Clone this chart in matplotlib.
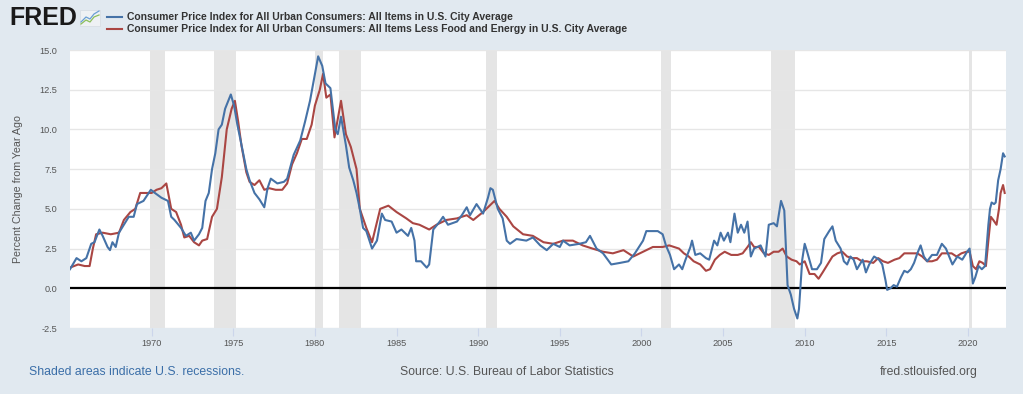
import matplotlib
matplotlib.use("Agg")
import matplotlib.pyplot as plt
from matplotlib.lines import Line2D
from matplotlib.patches import Rectangle

# ---------------- data (decimal years, % change from year ago) ----------------
cpi_years = [1965.0, 1965.4, 1965.7, 1966.0, 1966.3, 1966.5, 1966.8, 1967.0, 1967.3, 1967.45,
             1967.6, 1967.8, 1968.0, 1968.3, 1968.6, 1968.9, 1969.1, 1969.5, 1969.95, 1970.2,
             1970.6, 1971.0, 1971.2, 1971.4, 1971.8, 1972.1, 1972.4, 1972.6, 1972.9, 1973.1,
             1973.3, 1973.5, 1973.7, 1973.9, 1974.1, 1974.3, 1974.5, 1974.85, 1975.05, 1975.25,
             1975.45, 1975.8, 1976.0, 1976.3, 1976.6, 1976.9, 1977.1, 1977.3, 1977.7, 1978.1,
             1978.3, 1978.7, 1979.1, 1979.4, 1979.7, 1980.0, 1980.2, 1980.45, 1980.65, 1980.95,
             1981.25, 1981.4, 1981.6, 1981.9, 1982.1, 1982.35, 1982.55, 1982.75, 1982.95, 1983.15,
             1983.5, 1983.8, 1984.1, 1984.3, 1984.7, 1985.0, 1985.3, 1985.7, 1985.9, 1986.1,
             1986.2, 1986.5, 1986.85, 1987.0, 1987.25, 1987.65, 1987.85, 1988.15, 1988.7, 1989.0,
             1989.3, 1989.5, 1989.9, 1990.3, 1990.6, 1990.75, 1990.9, 1991.2, 1991.5, 1991.75,
             1991.95, 1992.35, 1992.95, 1993.35, 1993.8, 1994.2, 1994.6, 1995.0, 1995.2, 1995.6,
             1996.2, 1996.6, 1996.85, 1997.25, 1997.65, 1998.15, 1998.7, 1999.2, 1999.6, 2000.1,
             2000.3, 2000.7, 2001.0, 2001.3, 2001.5, 2001.75, 2002.0, 2002.3, 2002.5, 2002.7,
             2003.0, 2003.1, 2003.3, 2003.6, 2003.95, 2004.15, 2004.45, 2004.65, 2004.85, 2005.05,
             2005.3, 2005.45, 2005.7, 2005.9, 2006.1, 2006.3, 2006.5, 2006.7, 2006.9, 2007.1,
             2007.3, 2007.6, 2007.8, 2008.1, 2008.3, 2008.55, 2008.75, 2008.95, 2009.15, 2009.35,
             2009.55, 2009.65, 2009.85, 2010.0, 2010.15, 2010.45, 2010.75, 2011.0, 2011.2, 2011.5,
             2011.7, 2011.9, 2012.2, 2012.4, 2012.6, 2012.8, 2013.0, 2013.2, 2013.55, 2013.75,
             2013.95, 2014.25, 2014.55, 2014.75, 2014.95, 2015.05, 2015.25, 2015.45, 2015.65, 2015.9,
             2016.1, 2016.3, 2016.5, 2016.7, 2016.9, 2017.1, 2017.3, 2017.5, 2017.8, 2018.1,
             2018.4, 2018.65, 2018.85, 2019.05, 2019.35, 2019.65, 2019.95, 2020.1, 2020.3, 2020.45,
             2020.65, 2020.85, 2021.05, 2021.25, 2021.35, 2021.45, 2021.6, 2021.7, 2021.85, 2022.0,
             2022.15, 2022.25]
cpi_values = [1.2, 1.9, 1.7, 1.9, 2.8, 2.9, 3.7, 3.3, 2.6, 2.4,
              2.9, 2.6, 3.5, 4.0, 4.5, 4.5, 5.3, 5.5, 6.2, 6.0,
              5.7, 5.5, 4.5, 4.3, 3.8, 3.3, 3.5, 3.0, 3.4, 3.8,
              5.5, 6.0, 7.5, 8.5, 10.0, 10.3, 11.3, 12.2, 11.5, 10.3,
              9.3, 7.5, 6.8, 6.0, 5.6, 5.1, 6.3, 6.9, 6.6, 6.7,
              6.9, 8.4, 9.3, 10.5, 11.8, 13.5, 14.6, 14.0, 12.9, 12.6,
              10.0, 9.7, 10.8, 9.0, 7.6, 6.8, 6.0, 5.0, 3.8, 3.6,
              2.5, 3.0, 4.7, 4.3, 4.2, 3.5, 3.7, 3.3, 3.8, 3.0,
              1.7, 1.7, 1.3, 1.5, 3.7, 4.2, 4.5, 4.0, 4.2, 4.6,
              5.1, 4.6, 5.3, 4.7, 5.7, 6.3, 6.2, 5.0, 4.4, 3.0,
              2.8, 3.1, 3.0, 3.2, 2.7, 2.4, 2.8, 2.6, 3.0, 2.7,
              2.8, 2.9, 3.3, 2.5, 2.2, 1.5, 1.6, 1.7, 2.2, 3.0,
              3.6, 3.6, 3.6, 3.4, 2.7, 2.1, 1.2, 1.5, 1.2, 1.8,
              2.6, 3.0, 2.1, 2.2, 1.9, 1.8, 3.0, 2.7, 3.5, 3.0,
              3.5, 2.9, 4.7, 3.5, 4.0, 3.5, 4.2, 2.0, 2.5, 2.6,
              2.7, 2.0, 4.0, 4.1, 3.9, 5.5, 4.9, 0.2, -0.4, -1.3,
              -1.9, -1.3, 1.8, 2.8, 2.3, 1.2, 1.2, 1.6, 3.1, 3.6,
              3.9, 3.0, 2.5, 1.7, 1.5, 2.0, 1.8, 1.2, 1.8, 1.0,
              1.5, 2.0, 1.8, 1.5, 0.5, -0.1, 0.0, 0.2, 0.1, 0.7,
              1.1, 1.0, 1.2, 1.6, 2.2, 2.7, 2.0, 1.7, 2.1, 2.1,
              2.8, 2.5, 2.0, 1.5, 2.0, 1.8, 2.3, 2.5, 0.3, 0.7,
              1.4, 1.2, 1.4, 4.0, 5.0, 5.4, 5.3, 5.4, 6.8, 7.5,
              8.5, 8.3]

core_years = [1965.0, 1965.5, 1965.9, 1966.2, 1966.4, 1966.6, 1967.0, 1967.5, 1968.0, 1968.3,
              1968.7, 1969.0, 1969.3, 1969.7, 1970.0, 1970.3, 1970.6, 1970.9, 1971.2, 1971.5,
              1971.8, 1972.0, 1972.3, 1972.6, 1972.9, 1973.1, 1973.4, 1973.7, 1974.0, 1974.3,
              1974.6, 1974.9, 1975.1, 1975.3, 1975.5, 1975.8, 1976.0, 1976.3, 1976.6, 1976.9,
              1977.2, 1977.6, 1978.0, 1978.3, 1978.6, 1978.9, 1979.2, 1979.5, 1979.8, 1980.0,
              1980.3, 1980.5, 1980.7, 1980.95, 1981.2, 1981.6, 1981.9, 1982.2, 1982.55, 1982.75,
              1983.15, 1983.5, 1984.0, 1984.5, 1985.0, 1985.6, 1986.0, 1986.4, 1987.0, 1987.45,
              1988.05, 1988.7, 1989.3, 1989.7, 1990.3, 1990.7, 1991.0, 1991.3, 1991.75, 1992.15,
              1992.75, 1993.35, 1994.0, 1994.6, 1995.2, 1995.8, 1996.4, 1997.0, 1997.65, 1998.25,
              1998.9, 1999.5, 2000.1, 2000.7, 2001.3, 2001.7, 2002.0, 2002.3, 2002.6, 2002.9,
              2003.2, 2003.6, 2003.95, 2004.2, 2004.5, 2004.8, 2005.1, 2005.5, 2005.9, 2006.2,
              2006.5, 2006.7, 2006.9, 2007.2, 2007.5, 2007.8, 2008.1, 2008.4, 2008.65, 2008.9,
              2009.2, 2009.5, 2009.7, 2010.0, 2010.3, 2010.6, 2010.85, 2011.1, 2011.4, 2011.7,
              2012.0, 2012.3, 2012.6, 2012.9, 2013.2, 2013.5, 2013.8, 2014.2, 2014.5, 2014.8,
              2015.1, 2015.5, 2015.8, 2016.1, 2016.5, 2016.9, 2017.2, 2017.5, 2017.8, 2018.1,
              2018.4, 2018.7, 2019.0, 2019.3, 2019.6, 2019.9, 2020.1, 2020.3, 2020.5, 2020.7,
              2020.9, 2021.1, 2021.25, 2021.4, 2021.55, 2021.75, 2021.9, 2022.0, 2022.15, 2022.25]
core_values = [1.3, 1.5, 1.4, 1.4, 2.5, 3.4, 3.5, 3.4, 3.5, 4.3,
               4.8, 5.0, 6.0, 6.0, 6.0, 6.2, 6.3, 6.6, 5.0, 4.8,
               4.0, 3.2, 3.3, 2.9, 2.7, 3.0, 3.1, 4.5, 5.0, 7.0,
               10.0, 11.3, 11.8, 10.5, 9.0, 7.3, 6.7, 6.5, 6.8, 6.2,
               6.3, 6.2, 6.2, 6.6, 7.8, 8.5, 9.4, 9.4, 10.3, 11.5,
               12.5, 13.5, 12.0, 12.2, 9.5, 11.8, 9.7, 8.9, 7.5, 5.0,
               3.8, 2.9, 5.0, 5.2, 4.8, 4.4, 4.1, 4.0, 3.7, 4.0,
               4.3, 4.4, 4.6, 4.3, 4.8, 5.2, 5.5, 5.0, 4.5, 3.9,
               3.4, 3.3, 2.9, 2.8, 3.0, 3.0, 2.7, 2.5, 2.3, 2.2,
               2.4, 2.0, 2.3, 2.6, 2.6, 2.7, 2.6, 2.5, 2.2, 2.0,
               1.7, 1.5, 1.1, 1.2, 1.8, 2.1, 2.3, 2.1, 2.1, 2.2,
               2.6, 2.9, 2.6, 2.6, 2.2, 2.1, 2.3, 2.3, 2.5, 2.0,
               1.8, 1.7, 1.5, 1.7, 0.9, 0.9, 0.6, 1.0, 1.5, 2.0,
               2.2, 2.3, 2.0, 1.9, 1.9, 1.7, 1.7, 1.6, 1.9, 1.7,
               1.6, 1.8, 1.9, 2.2, 2.2, 2.2, 2.0, 1.7, 1.7, 1.8,
               2.2, 2.2, 2.2, 2.0, 2.2, 2.3, 2.3, 1.4, 1.2, 1.7,
               1.6, 1.4, 3.0, 4.5, 4.3, 4.0, 5.0, 6.0, 6.5, 6.0]

recession_starts = [1969.92, 1973.83, 1980.0, 1981.5, 1990.5, 2001.17, 2007.92, 2020.08]
recession_ends = [1970.83, 1975.17, 1980.5, 1982.83, 1991.17, 2001.83, 2009.42, 2020.25]

y_ticks = [-2.5, 0.0, 2.5, 5.0, 7.5, 10.0, 12.5, 15.0]
x_ticks = [1970, 1975, 1980, 1985, 1990, 1995, 2000, 2005, 2010, 2015, 2020]

cpi_label = "Consumer Price Index for All Urban Consumers: All Items in U.S. City Average"
core_label = ("Consumer Price Index for All Urban Consumers: All Items Less Food and Energy "
              "in U.S. City Average")

# ---------------- styling ----------------
BG = "#e1e9f0"
BLUE = "#4572a7"
RED = "#aa4643"
GRAY_TXT = "#555555"
FONT = ["Liberation Sans", "DejaVu Sans"]

W, H = 1023, 394
fig = plt.figure(figsize=(W / 100, H / 100), dpi=100, facecolor=BG)
ax = fig.add_axes([70 / W, (H - 328) / H, (1006 - 70) / W, (328 - 50) / H])
ax.set_facecolor("white")

for s, e in zip(recession_starts, recession_ends):
    ax.axvspan(s, e, color="#e5e5e5", lw=0, zorder=0)

for yv in y_ticks:
    if yv != 0:
        ax.axhline(yv, color="#e6e6e6", lw=1.0, zorder=0.5)
ax.axhline(0, color="black", lw=1.6, zorder=1)

ax.plot(cpi_years, cpi_values, color=BLUE, lw=1.5, zorder=3)
ax.plot(core_years, core_values, color=RED, lw=1.5, zorder=2)

ax.set_xlim(1965.0, 2022.33)
ax.set_ylim(-2.5, 15.0)
ax.set_yticks(y_ticks)
ax.set_yticklabels([f"{v:.1f}" for v in y_ticks])
ax.set_xticks(x_ticks)
ax.set_xticklabels([str(v) for v in x_ticks])
for sp in ax.spines.values():
    sp.set_visible(False)
ax.tick_params(axis="y", length=0, pad=9, labelsize=6.6, labelcolor=GRAY_TXT)
ax.tick_params(axis="x", length=6, width=0.8, color="#ccd6eb", pad=2, labelsize=6.6,
               labelcolor=GRAY_TXT)
for lab in ax.get_xticklabels() + ax.get_yticklabels():
    lab.set_family(FONT)
ax.set_ylabel("Percent Change from Year Ago", fontsize=7.7, color=GRAY_TXT,
              family=FONT, labelpad=12)

# ---------------- header ----------------
fig.text(9 / W, 1 - 18 / H, "FRED", fontsize=18, fontweight="bold", family=FONT,
         color="#1a1a1a", va="center", ha="left")
# small logo box with sparkline (decorative)
fig.add_artist(Rectangle((80 / W, 1 - 26 / H), 20 / W, 16 / H, facecolor="#eef1f4",
                         edgecolor="#d5dbe1", lw=0.5, transform=fig.transFigure))
fig.add_artist(Line2D([81 / W, 86 / W, 90 / W, 94 / W, 99 / W],
                      [1 - 22 / H, 1 - 17 / H, 1 - 19 / H, 1 - 14 / H, 1 - 11 / H],
                      color="#6a9fd4", lw=0.9))
fig.add_artist(Line2D([81 / W, 86 / W, 90 / W, 94 / W, 99 / W],
                      [1 - 24 / H, 1 - 20 / H, 1 - 22 / H, 1 - 17 / H, 1 - 15 / H],
                      color="#8cbf5a", lw=0.9))

for i, (lab, col) in enumerate([(cpi_label, BLUE), (core_label, RED)]):
    yy = 1 - (16.7 + 12.6 * i) / H
    fig.add_artist(Line2D([107 / W, 122 / W], [yy, yy], color=col, lw=1.5))
    fig.text(127 / W, yy, lab, fontsize=7.5, fontweight="bold", family=FONT,
             color="#333333", va="center", ha="left")

# ---------------- footer ----------------
fy = 1 - 371.7 / H
fig.text(29 / W, fy, "Shaded areas indicate U.S. recessions.", fontsize=8.8,
         color="#3a6ea8", family=FONT, va="center", ha="left")
fig.text(507 / W, fy, "Source: U.S. Bureau of Labor Statistics", fontsize=8.8,
         color=GRAY_TXT, family=FONT, va="center", ha="center")
fig.text(978 / W, fy, "fred.stlouisfed.org", fontsize=8.8,
         color=GRAY_TXT, family=FONT, va="center", ha="right")

fig.savefig("out.png", dpi=100, facecolor=BG)
